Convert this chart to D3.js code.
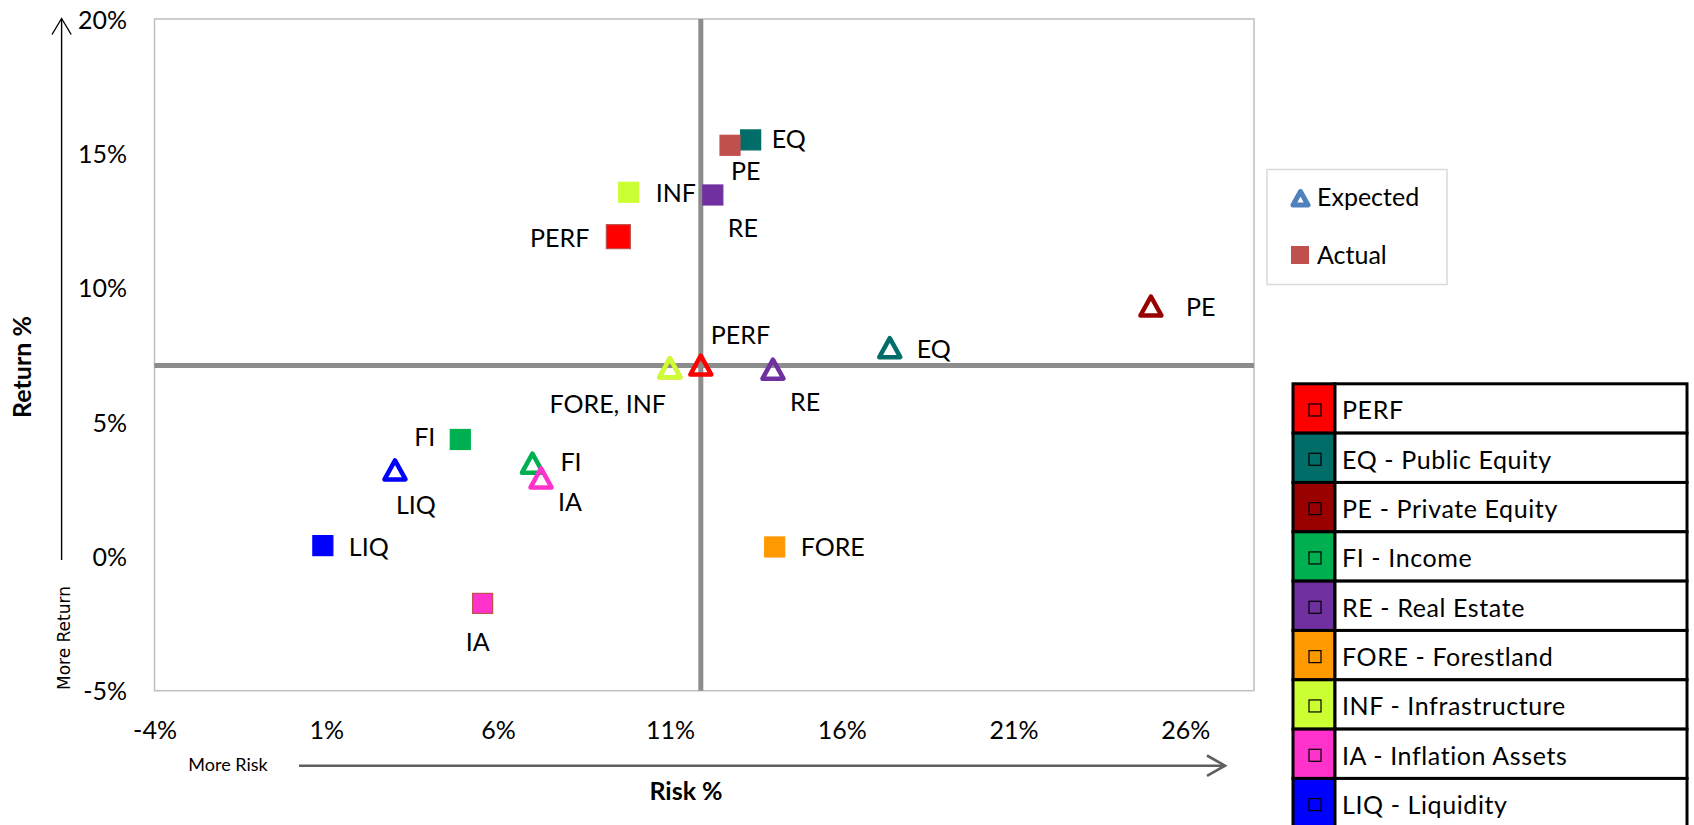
<!DOCTYPE html>
<html>
<head>
<meta charset="utf-8">
<script src="https://cdn.jsdelivr.net/npm/d3@7"></script>
<style>
  html, body { margin: 0; padding: 0; background: #fff; overflow: hidden; }
  svg text { font-family: Lato, "Open Sans", sans-serif; fill: #000; }
</style>
</head>
<body>
<svg id="chart" width="1694" height="825"></svg>
<script>
// Asset classes, in drawing order
const assetCodes  = ["PERF", "EQ", "PE", "FI", "RE", "FORE", "INF", "IA", "LIQ"];
const assetNames  = ["PERF", "EQ - Public Equity", "PE - Private Equity", "FI - Income",
                     "RE - Real Estate", "FORE - Forestland", "INF - Infrastructure",
                     "IA - Inflation Assets", "LIQ - Liquidity"];
const assetColors = ["#FF0000", "#006D68", "#990000", "#00B050", "#7030A0",
                     "#FF9900", "#CCFF33", "#FF33CC", "#0000FF"];

// Expected risk / return (%)
const expectedRisk   = [11.9, 17.4, 25.0, 7.0, 14.0, 11.0, 11.0, 7.25, 3.0];
const expectedReturn = [7.1, 7.75, 9.3, 3.45, 6.95, 7.0, 7.0, 2.9, 3.2];
// Actual risk / return (%)
const actualRisk     = [9.5, 13.35, 12.75, 4.9, 12.25, 14.05, 9.8, 5.55, 0.9];
const actualReturn   = [11.9, 15.5, 15.3, 4.35, 13.45, 0.35, 13.55, -1.75, 0.4];

// Point labels
const expectedLabels = ["PERF", "EQ", "PE", "FI", "RE", "", "FORE, INF", "IA", "LIQ"];
const actualLabels   = ["PERF", "EQ", "PE", "FI", "RE", "FORE", "INF", "IA", "LIQ"];

// Axes
const riskTicks   = [-4, 1, 6, 11, 16, 21, 26];
const returnTicks = [-5, 0, 5, 10, 15, 20];
const seriesNames = ["Expected", "Actual"];

// ---------------------------------------------------------------
const FONT = 25;
const svg = d3.select("#chart");

const plot = { left: 154.5, right: 1254, top: 19, bottom: 690.7 };
const x = d3.scaleLinear().domain([-4, 28]).range([plot.left, plot.right]);
const y = d3.scaleLinear().domain([-5, 20]).range([plot.bottom, plot.top]);

// label placement relative to each marker: [dx, dy, anchor]
const expectedPlace = {
  PERF: [10, -31, "start"], EQ: [27, 1, "start"], PE: [35, 1, "start"],
  FI: [28, -2, "start"], RE: [17, 32, "start"], FORE: [0, 0, "start"],
  INF: [-4, 36, "end"], IA: [17, 24, "start"], LIQ: [1, 35, "start"]
};
const actualPlace = {
  PERF: [-29, 1, "end"], EQ: [21, -1, "start"], PE: [1, 26, "start"],
  FI: [-25, -2, "end"], RE: [15, 33, "start"], FORE: [26, 0, "start"],
  INF: [27, 1, "start"], IA: [-5, 39, "middle"], LIQ: [26, 1, "start"]
};

// plot area frame
svg.append("rect")
  .attr("x", plot.left).attr("y", plot.top)
  .attr("width", plot.right - plot.left).attr("height", plot.bottom - plot.top)
  .attr("fill", "#fff").attr("stroke", "#BFBFBF").attr("stroke-width", 1.5);

// axes (labels only)
const xAxis = svg.append("g")
  .attr("transform", `translate(0,${plot.bottom})`)
  .call(d3.axisBottom(x).tickValues(riskTicks).tickSize(0).tickFormat(d => d + "%"));
xAxis.select(".domain").remove();
xAxis.selectAll("text").attr("y", 730 - plot.bottom).attr("dy", "0.36em")
  .style("font-size", FONT + "px").style("font-family", "Lato, sans-serif");

const yAxis = svg.append("g")
  .attr("transform", `translate(${plot.left},0)`)
  .call(d3.axisLeft(y).tickValues(returnTicks).tickSize(0).tickPadding(27.5).tickFormat(d => d + "%"));
yAxis.select(".domain").remove();
yAxis.selectAll("text").attr("dy", "0.36em")
  .style("font-size", FONT + "px").style("font-family", "Lato, sans-serif");

// quadrant lines through the expected PERF point
const iPerf = assetCodes.indexOf("PERF");
svg.append("line")
  .attr("x1", plot.left).attr("x2", plot.right)
  .attr("y1", y(expectedReturn[iPerf])).attr("y2", y(expectedReturn[iPerf]))
  .attr("stroke", "#8C8C8C").attr("stroke-width", 5);
svg.append("line")
  .attr("y1", plot.top).attr("y2", plot.bottom)
  .attr("x1", x(expectedRisk[iPerf])).attr("x2", x(expectedRisk[iPerf]))
  .attr("stroke", "#8C8C8C").attr("stroke-width", 5);

// marker shapes
const triPath = "M0,-10 L10.5,9 L-10.5,9 Z";
const squareSize = code => code === "PERF" ? 24 : 20;
const actualFill = (code, i) => code === "PE" ? "#C0504D" : assetColors[i];
const actualStroke = (code, i) => (code === "PERF" || code === "IA") ? "#C0504D" : actualFill(code, i);

const expectedData = assetCodes.map((c, i) => ({ code: c, i, rx: expectedRisk[i], ry: expectedReturn[i], label: expectedLabels[i] }));
const actualData   = assetCodes.map((c, i) => ({ code: c, i, rx: actualRisk[i], ry: actualReturn[i], label: actualLabels[i] }));

// expected: hollow triangles
svg.append("g").selectAll("path").data(expectedData).join("path")
  .attr("d", triPath)
  .attr("transform", d => `translate(${x(d.rx)},${y(d.ry)})`)
  .attr("fill", "none")
  .attr("stroke", d => assetColors[d.i])
  .attr("stroke-width", 4.5)
  .attr("stroke-linejoin", "round");

// actual: squares
svg.append("g").selectAll("rect").data(actualData).join("rect")
  .attr("x", d => x(d.rx) - squareSize(d.code) / 2)
  .attr("y", d => y(d.ry) - squareSize(d.code) / 2)
  .attr("width", d => squareSize(d.code))
  .attr("height", d => squareSize(d.code))
  .attr("fill", d => actualFill(d.code, d.i))
  .attr("stroke", d => actualStroke(d.code, d.i))
  .attr("stroke-width", 1.2);

// point labels
function drawLabels(data, place) {
  svg.append("g").selectAll("text").data(data.filter(d => d.label)).join("text")
    .attr("x", d => x(d.rx) + place[d.code][0])
    .attr("y", d => y(d.ry) + place[d.code][1])
    .attr("dy", "0.36em")
    .attr("text-anchor", d => place[d.code][2])
    .style("font-size", FONT + "px")
    .text(d => d.label);
}
drawLabels(expectedData, expectedPlace);
drawLabels(actualData, actualPlace);

// axis titles
svg.append("text")
  .attr("transform", "translate(22,367) rotate(-90)")
  .attr("text-anchor", "middle").attr("dy", "0.36em")
  .style("font-size", FONT + "px").style("font-weight", "bold")
  .text("Return %");
svg.append("text")
  .attr("x", 686).attr("y", 791).attr("dy", "0.36em")
  .attr("text-anchor", "middle")
  .style("font-size", FONT + "px").style("font-weight", "bold")
  .text("Risk %");

// direction hints
svg.append("text")
  .attr("transform", "translate(63.5,638) rotate(-90)")
  .attr("text-anchor", "middle").attr("dy", "0.36em")
  .style("font-size", "17px").style("font-family", "'DejaVu Sans', sans-serif")
  .text("More Return");
svg.append("text")
  .attr("x", 228).attr("y", 765).attr("dy", "0.36em")
  .attr("text-anchor", "middle")
  .style("font-size", "18px")
  .text("More Risk");

// vertical arrow
svg.append("line").attr("x1", 61.6).attr("x2", 61.6).attr("y1", 19).attr("y2", 560)
  .attr("stroke", "#000").attr("stroke-width", 1.4);
svg.append("path").attr("d", "M52,34.5 L61.6,18.5 L71.2,34.5")
  .attr("fill", "none").attr("stroke", "#000").attr("stroke-width", 1.4);

// horizontal arrow
svg.append("line").attr("x1", 299).attr("x2", 1224).attr("y1", 765.7).attr("y2", 765.7)
  .attr("stroke", "#5F5F5F").attr("stroke-width", 2.6);
svg.append("path").attr("d", "M1207,755.5 L1225,765.7 L1207,775.9")
  .attr("fill", "none").attr("stroke", "#5F5F5F").attr("stroke-width", 2.6);

// series legend
const lg = svg.append("g");
lg.append("rect").attr("x", 1267).attr("y", 169.5).attr("width", 180).attr("height", 115)
  .attr("fill", "#fff").attr("stroke", "#D9D9D9").attr("stroke-width", 1.5);
lg.append("path").attr("d", "M0,-7 L7.5,6.5 L-7.5,6.5 Z")
  .attr("transform", "translate(1300.5,198.5)")
  .attr("fill", "#fff").attr("stroke", "#4F81BD").attr("stroke-width", 5).attr("stroke-linejoin", "round");
lg.append("rect").attr("x", 1291).attr("y", 246).attr("width", 18).attr("height", 18)
  .attr("fill", "#C0504D");
lg.selectAll("text.series").data(seriesNames).join("text")
  .attr("class", "series")
  .attr("x", 1317).attr("y", (d, i) => i === 0 ? 197 : 254.5).attr("dy", "0.36em")
  .style("font-size", FONT + "px")
  .text(d => d);

// asset-class key table
const rowH = 49.33, tTop = 383.8, tLeft = 1293, colW = 42, tRight = 1687;
const key = svg.append("g");
const rows = key.selectAll("g.row").data(assetCodes.map((c, i) => i)).join("g")
  .attr("class", "row")
  .attr("transform", i => `translate(0,${tTop + i * rowH})`);
rows.append("rect").attr("x", tLeft).attr("y", 0).attr("width", colW).attr("height", rowH)
  .attr("fill", i => assetColors[i]).attr("stroke", "#000").attr("stroke-width", 3);
rows.append("rect").attr("x", tLeft + colW).attr("y", 0).attr("width", tRight - tLeft - colW).attr("height", rowH)
  .attr("fill", "#fff").attr("stroke", "#000").attr("stroke-width", 3);
rows.append("rect").attr("x", 1309).attr("y", rowH / 2 - 4.5).attr("width", 12).attr("height", 12)
  .attr("fill", "none").attr("stroke", "#000").attr("stroke-width", 1.2);
rows.append("text").attr("x", 1342).attr("y", rowH / 2 + 2).attr("dy", "0.36em")
  .style("font-size", FONT + "px").style("letter-spacing", "0.6px")
  .text(i => assetNames[i]);
</script>
</body>
</html>
